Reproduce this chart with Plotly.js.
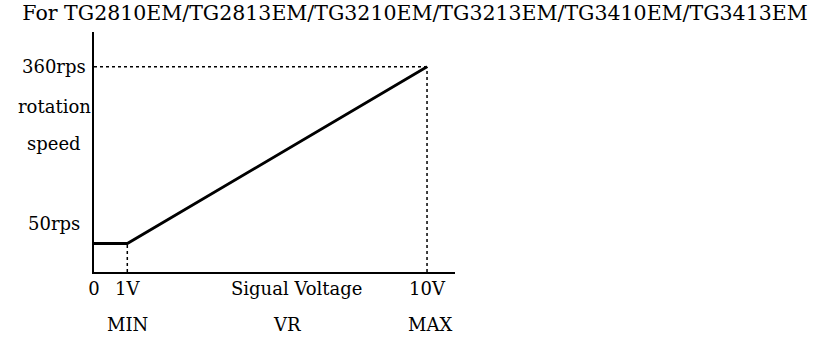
<!DOCTYPE html>
<html>
<head>
<meta charset="utf-8">
<script src="https://cdn.plot.ly/plotly-3.0.1.min.js"></script>
<style>
html,body{margin:0;padding:0;background:#fff;}
#chart{width:827px;height:341px;}
</style>
</head>
<body>
<div id="chart"></div>
<script>
// Data
const voltage = [0, 1, 10];          // V
const speed = [50, 50, 360];         // rps
const tickVals = [0, 1, 10];
const tickLabels = ["0", "1V", "10V"];
const rangeLabels = ["MIN", "VR", "MAX"];
const rangeLabelPos = [1, 5.8, 10.1];
const speedLabels = ["360rps", "rotation", "speed", "50rps"];
const speedLabelPos = [360, 290, 225, 85];
const titleText = "For TG2810EM/TG2813EM/TG3210EM/TG3213EM/TG3410EM/TG3413EM";
const xTitle = "Sigual Voltage";

const FONT = "DejaVu Serif, Liberation Serif, serif";
const FS = 18;

const trace = {
  x: voltage, y: speed, type: "scatter", mode: "lines",
  line: {color: "#000", width: 2.8}, hoverinfo: "skip", showlegend: false
};

const dot = {color: "#000", width: 1.5, dash: "dot"};
const shapes = [
  {type: "line", xref: "x", yref: "y", x0: 0, x1: voltage[2], y0: speed[2], y1: speed[2], line: dot},
  {type: "line", xref: "x", yref: "y", x0: voltage[2], x1: voltage[2], y0: 0, y1: speed[2], line: dot},
  {type: "line", xref: "x", yref: "y", x0: voltage[1], x1: voltage[1], y0: 0, y1: speed[1], line: dot}
];

const annotations = [];
speedLabels.forEach((t, i) => annotations.push({
  text: t, xref: "paper", yref: "y", x: -0.11, y: speedLabelPos[i],
  xanchor: "center", yanchor: "middle", showarrow: false,
  font: {family: FONT, size: FS, color: "#000"}
}));
rangeLabels.forEach((t, i) => annotations.push({
  text: t, xref: "x", yref: "paper", x: rangeLabelPos[i], y: -0.22,
  xanchor: "center", yanchor: "middle", showarrow: false,
  font: {family: FONT, size: FS, color: "#000"}
}));
annotations.push({
  text: xTitle, xref: "x", yref: "paper", x: 6.1, y: -0.068,
  xanchor: "center", yanchor: "middle", showarrow: false,
  font: {family: FONT, size: FS, color: "#000"}
});

const layout = {
  width: 827, height: 341,
  margin: {l: 94, r: 372, t: 32, b: 69, pad: 0},
  paper_bgcolor: "#fff", plot_bgcolor: "#fff",
  title: {text: titleText, x: 0.027, xanchor: "left", xref: "container", y: 0.982, yanchor: "top",
          yref: "container", font: {family: FONT, size: 20.5, color: "#000"}},
  xaxis: {range: [0, 10.84], showgrid: false, zeroline: false, showline: true,
          linecolor: "#000", linewidth: 1.6, ticks: "", tickvals: tickVals, ticktext: tickLabels,
          tickfont: {family: FONT, size: FS, color: "#000"}, fixedrange: true},
  yaxis: {range: [0, 421], showgrid: false, zeroline: false, showline: true,
          linecolor: "#000", linewidth: 1.6, ticks: "", showticklabels: false, fixedrange: true},
  shapes: shapes,
  annotations: annotations
};

Plotly.newPlot("chart", [trace], layout, {displayModeBar: false, staticPlot: true});
</script>
</body>
</html>
